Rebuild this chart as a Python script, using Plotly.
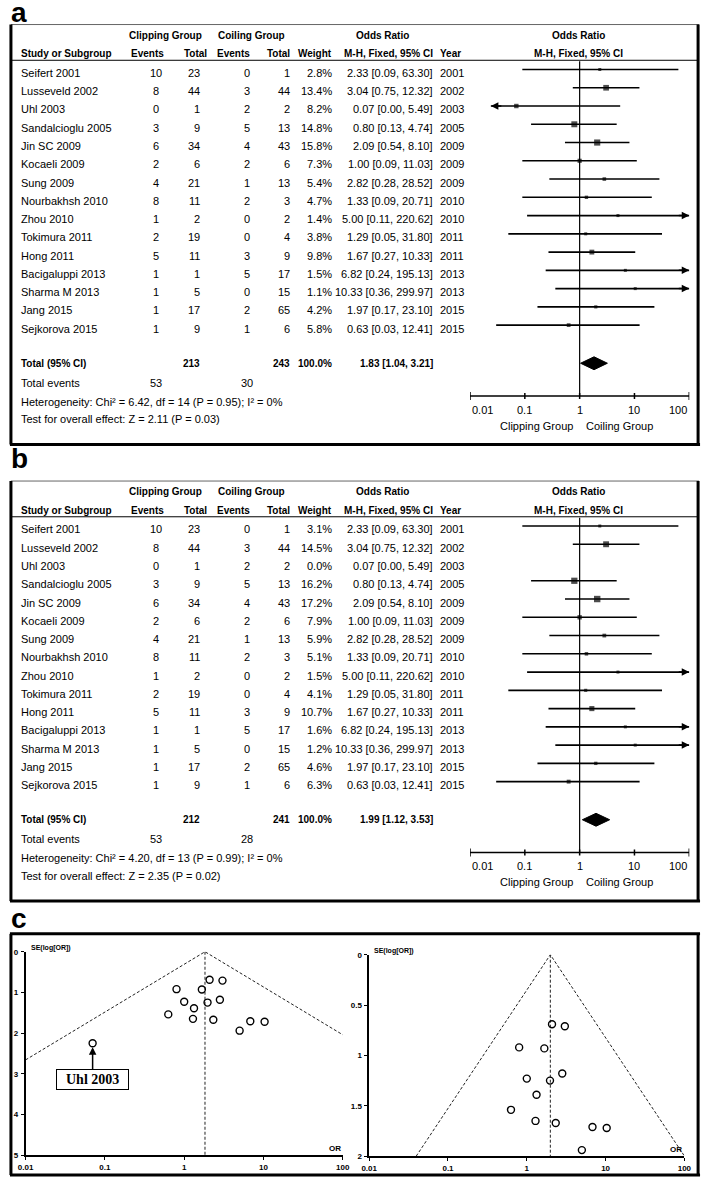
import numpy as np
import plotly.graph_objects as go

W, H = 709, 1183

# ---------------- data ----------------
studies = ["Seifert 2001", "Lusseveld 2002", "Uhl 2003", "Sandalcioglu 2005", "Jin SC 2009",
           "Kocaeli 2009", "Sung 2009", "Nourbakhsh 2010", "Zhou 2010", "Tokimura 2011",
           "Hong 2011", "Bacigaluppi 2013", "Sharma M 2013", "Jang 2015", "Sejkorova 2015"]
years = [2001, 2002, 2003, 2005, 2009, 2009, 2009, 2010, 2010, 2011, 2011, 2013, 2013, 2015, 2015]
clip_events = [10, 8, 0, 3, 6, 2, 4, 8, 1, 2, 5, 1, 1, 1, 1]
clip_total = [23, 44, 1, 9, 34, 6, 21, 11, 2, 19, 11, 1, 5, 17, 9]
coil_events = [0, 3, 2, 5, 4, 2, 1, 2, 0, 0, 3, 5, 0, 2, 1]
coil_total = [1, 44, 2, 13, 43, 6, 13, 3, 2, 4, 9, 17, 15, 65, 6]
weight_a = [2.8, 13.4, 8.2, 14.8, 15.8, 7.3, 5.4, 4.7, 1.4, 3.8, 9.8, 1.5, 1.1, 4.2, 5.8]
weight_b = [3.1, 14.5, 0.0, 16.2, 17.2, 7.9, 5.9, 5.1, 1.5, 4.1, 10.7, 1.6, 1.2, 4.6, 6.3]
odds = [2.33, 3.04, 0.07, 0.80, 2.09, 1.00, 2.82, 1.33, 5.00, 1.29, 1.67, 6.82, 10.33, 1.97, 0.63]
ci_low = [0.09, 0.75, 0.00, 0.13, 0.54, 0.09, 0.28, 0.09, 0.11, 0.05, 0.27, 0.24, 0.36, 0.17, 0.03]
ci_high = [63.30, 12.32, 5.49, 4.74, 8.10, 11.03, 28.52, 20.71, 220.62, 31.80, 10.33, 195.13, 299.97, 23.10, 12.41]
se_log_or = [1.67, 0.71, 2.25, 0.92, 0.69, 1.23, 1.18, 1.39, 1.94, 1.65, 0.93, 1.71, 1.72, 1.25, 1.54]
included_a = [True] * 15
included_b = [True, True, False] + [True] * 12

pooled_or = [1.83, 1.99]
pooled_lo = [1.04, 1.12]
pooled_hi = [3.21, 3.53]
sum_clip_total = [213, 212]
sum_coil_total = [243, 241]
sum_clip_events = [53, 53]
sum_coil_events = [30, 28]
het_text = ["Heterogeneity: Chi² = 6.42, df = 14 (P = 0.95); I² = 0%",
            "Heterogeneity: Chi² = 4.20, df = 13 (P = 0.99); I² = 0%"]
test_text = ["Test for overall effect: Z = 2.11 (P = 0.03)",
             "Test for overall effect: Z = 2.35 (P = 0.02)"]

or_ticks = [0.01, 0.1, 1, 10, 100]
or_tick_labels = ["0.01", "0.1", "1", "10", "100"]
se_ticks_a = [0, 1, 2, 3, 4, 5]
se_tick_labels_a = ["0", "1", "2", "3", "4", "5"]
se_ticks_b = [0, 0.5, 1, 1.5, 2]
se_tick_labels_b = ["0", "0.5", "1", "1.5", "2"]

# ---------------- layout constants (px) ----------------
FONT = "Liberation Sans, Arial, sans-serif"
FS, FSB = 11, 10
ROW0, ROWH = 69.5, 18.4          # text centre of first study row, row pitch
MARK_SHIFT = -3.5                # forest marks sit slightly above the text centre
HDR1, HDR2, HDR_LINE = 31.7, 50, 56.7
TOTAL_PX, EVT_PX, HET_PX, TEST_PX = 362, 381.7, 401, 418.5
AXIS_PX, TICKLAB_PX, GRPLAB_PX = 395, 409, 425
TOP_PX, BOT_PX = 20.7, 444
OFFSETS = [0, 460]
LETTER_Y = [9, 458]
XL, XR = 472, 696
LEFT_CLIP, RIGHT_CLIP = 0.024, 100

def px(x):
    return x / W

def py(y):
    return 1 - y / H

fig = go.Figure()
ann = []
shp = []

def txt(x, y, s, anchor="left", bold=False, size=None, family=FONT):
    if size is None:
        size = FSB if bold else FS
    ann.append(dict(x=px(x), y=py(y), xref="paper", yref="paper",
                    text=("<b>%s</b>" % s) if bold else s, showarrow=False,
                    xanchor=anchor, yanchor="middle",
                    font=dict(family=family, size=size, color="black")))

def hline(x0, x1, y, w=1, color="black"):
    shp.append(dict(type="line", xref="paper", yref="paper", x0=px(x0), x1=px(x1),
                    y0=py(y), y1=py(y), line=dict(color=color, width=w)))

def vline(x, y0, y1, w=1, color="black"):
    shp.append(dict(type="line", xref="paper", yref="paper", x0=px(x), x1=px(x),
                    y0=py(y0), y1=py(y1), line=dict(color=color, width=w)))

def row_of(pxv):
    # forest-plot row units for a pixel position (relative to panel top)
    return (pxv - (ROW0 + MARK_SHIFT)) / ROWH

letters = ["a", "b"]
for p, T in enumerate(OFFSETS):
    weights = weight_a if p == 0 else weight_b
    incl = included_a if p == 0 else included_b
    xa = "x" if p == 0 else "x2"
    ya = "y" if p == 0 else "y2"
    # panel letter + frame
    txt(1, LETTER_Y[p], letters[p], bold=True, size=28)
    hline(3, 706, TOP_PX + T, w=1, color="#666")
    vline(3, TOP_PX + T, BOT_PX + T, w=3)
    vline(705, TOP_PX + T, BOT_PX + T, w=3)
    hline(2, 707, BOT_PX + T, w=3)
    hline(3, 705, HDR_LINE + T, w=1)
    # headers
    txt(161, HDR1 + T, "Clipping Group", "center", True)
    txt(249, HDR1 + T, "Coiling Group", "center", True)
    txt(383, HDR1 + T, "Odds Ratio", "center", True)
    txt(583, HDR1 + T, "Odds Ratio", "center", True)
    txt(11, HDR2 + T, "Study or Subgroup", "left", True)
    txt(161, HDR2 + T, "Events", "right", True)
    txt(205, HDR2 + T, "Total", "right", True)
    txt(249, HDR2 + T, "Events", "right", True)
    txt(290, HDR2 + T, "Total", "right", True)
    txt(333, HDR2 + T, "Weight", "right", True)
    txt(389, HDR2 + T, "M-H, Fixed, 95% CI", "center", True)
    txt(439, HDR2 + T, "Year", "left", True)
    txt(583, HDR2 + T, "M-H, Fixed, 95% CI", "center", True)
    # study rows
    for i, s in enumerate(studies):
        y = ROW0 + i * ROWH + T
        txt(11, y, s)
        txt(151, y, str(clip_events[i]), "center")
        txt(198, y, str(clip_total[i]), "right")
        txt(244, y, str(coil_events[i]), "center")
        txt(290, y, str(coil_total[i]), "right")
        txt(333, y, "%.1f%%" % weights[i], "right")
        txt(436, y, "%.2f [%.2f, %.2f]" % (odds[i], ci_low[i], ci_high[i]), "right")
        txt(439, y, str(years[i]), "left")
    # totals
    txt(11, TOTAL_PX + T, "Total (95% CI)", "left", True)
    txt(198, TOTAL_PX + T, str(sum_clip_total[p]), "right", True)
    txt(290, TOTAL_PX + T, str(sum_coil_total[p]), "right", True)
    txt(333, TOTAL_PX + T, "100.0%", "right", True)
    txt(436, TOTAL_PX + T, "%.2f [%.2f, %.2f]" % (pooled_or[p], pooled_lo[p], pooled_hi[p]), "right", True)
    txt(11, EVT_PX + T, "Total events")
    txt(151, EVT_PX + T, str(sum_clip_events[p]), "center")
    txt(244, EVT_PX + T, str(sum_coil_events[p]), "center")
    txt(11, HET_PX + T, het_text[p])
    txt(11, TEST_PX + T, test_text[p])

    # ---- forest plot ----
    xs, ys, mx, my, ms = [], [], [], [], []
    for i in range(len(studies)):
        if not incl[i]:
            continue
        lo = max(ci_low[i], LEFT_CLIP)
        hi = min(ci_high[i], RIGHT_CLIP)
        xs += [lo, hi, None]
        ys += [i, i, None]
        mx.append(odds[i]); my.append(i)
        ms.append(max(3.0, 1.55 * np.sqrt(weights[i])))
        if ci_low[i] < LEFT_CLIP:
            ann.append(dict(x=np.log10(LEFT_CLIP), y=i, xref=xa, yref=ya, text="", showarrow=True,
                            ax=12, ay=0, arrowhead=2, arrowsize=1, arrowwidth=1.5, arrowcolor="black"))
        if ci_high[i] > RIGHT_CLIP:
            ann.append(dict(x=np.log10(RIGHT_CLIP), y=i, xref=xa, yref=ya, text="", showarrow=True,
                            ax=-12, ay=0, arrowhead=2, arrowsize=1, arrowwidth=1.5, arrowcolor="black"))
    total_row = row_of(TOTAL_PX)
    axis_row = row_of(AXIS_PX)
    hdr_row = row_of(HDR_LINE + 1)
    fig.add_trace(go.Scatter(x=[1, 1], y=[hdr_row, axis_row], mode="lines",
                             line=dict(color="black", width=1.2), xaxis=xa, yaxis=ya,
                             hoverinfo="skip", showlegend=False, cliponaxis=False))
    fig.add_trace(go.Scatter(x=xs, y=ys, mode="lines", line=dict(color="black", width=1.6),
                             xaxis=xa, yaxis=ya, hoverinfo="skip", showlegend=False, cliponaxis=False))
    fig.add_trace(go.Scatter(x=mx, y=my, mode="markers",
                             marker=dict(symbol="square", size=ms, color="black", line=dict(width=0)),
                             xaxis=xa, yaxis=ya, hoverinfo="skip", showlegend=False, cliponaxis=False))
    dh = 6.5 / ROWH
    fig.add_trace(go.Scatter(x=[pooled_lo[p], pooled_or[p], pooled_hi[p], pooled_or[p], pooled_lo[p]],
                             y=[total_row, total_row - dh, total_row, total_row + dh, total_row],
                             mode="lines", fill="toself", fillcolor="black",
                             line=dict(color="black", width=1), xaxis=xa, yaxis=ya,
                             hoverinfo="skip", showlegend=False, cliponaxis=False))
    ax_x, ax_y = [or_ticks[0], or_ticks[-1], None], [axis_row, axis_row, None]
    for k, v in enumerate(or_ticks):
        t = (4.0 if k in (0, len(or_ticks) - 1) else 3.0) / ROWH
        ax_x += [v, v, None]
        ax_y += [axis_row - t, axis_row + t, None]
    fig.add_trace(go.Scatter(x=ax_x, y=ax_y, mode="lines", line=dict(color="black", width=1.5),
                             xaxis=xa, yaxis=ya, hoverinfo="skip", showlegend=False, cliponaxis=False))
    for k, (v, lab) in enumerate(zip(or_ticks, or_tick_labels)):
        anchor = "left" if k == 0 else ("right" if k == len(or_ticks) - 1 else "center")
        ann.append(dict(x=np.log10(v), y=py(TICKLAB_PX + T), xref=xa, yref="paper", text=lab,
                        showarrow=False, xanchor=anchor, yanchor="middle",
                        font=dict(family=FONT, size=FS, color="black")))
    ann.append(dict(x=0, y=py(GRPLAB_PX + T), xref=xa, yref="paper", text="Clipping Group",
                    showarrow=False, xanchor="right", xshift=-5, yanchor="middle",
                    font=dict(family=FONT, size=FS, color="black")))
    ann.append(dict(x=0, y=py(GRPLAB_PX + T), xref=xa, yref="paper", text="Coiling Group",
                    showarrow=False, xanchor="left", xshift=4, yanchor="middle",
                    font=dict(family=FONT, size=FS, color="black")))
    bot = AXIS_PX + 8
    fig.layout["xaxis" if p == 0 else "xaxis2"] = dict(
        type="log", range=[-2, 2], domain=[px(XL), px(XR)], anchor=ya, visible=False, fixedrange=True)
    fig.layout["yaxis" if p == 0 else "yaxis2"] = dict(
        range=[row_of(bot), row_of(HDR_LINE)], domain=[py(bot + T), py(HDR_LINE + T)],
        anchor=xa, visible=False, fixedrange=True)

# ---------------- panel c: funnel plots ----------------
txt(1, 922, "c", bold=True, size=28)
C_TOP, C_BOT = 937, 1180
hline(2, 707, C_TOP, w=3)
vline(3, C_TOP, C_BOT, w=3)
vline(705, C_TOP, C_BOT, w=3)
hline(2, 707, C_BOT, w=3)

funnels = [
    dict(xa="x3", ya="y3", xd=(18, 342), yd=(955, 1160), pooled=pooled_or[0], semax=5,
         incl=included_a, ticks=se_ticks_a, labs=se_tick_labels_a),
    dict(xa="x4", ya="y4", xd=(369, 691), yd=(958, 1161), pooled=pooled_or[1], semax=2,
         incl=included_b, ticks=se_ticks_b, labs=se_tick_labels_b),
]
TICKFONT = dict(family=FONT, size=8, color="black")
for k, f in enumerate(funnels):
    xa, ya = f["xa"], f["ya"]
    idx = [i for i in range(len(studies)) if f["incl"][i]]
    lnp = np.log(f["pooled"])
    se_l = min(f["semax"], (lnp - np.log(or_ticks[0])) / 1.96)
    se_r = min(f["semax"], (np.log(or_ticks[-1]) - lnp) / 1.96)
    fig.add_trace(go.Scatter(x=[np.exp(lnp - 1.96 * se_l), f["pooled"], np.exp(lnp + 1.96 * se_r)],
                             y=[se_l, 0, se_r], mode="lines",
                             line=dict(color="#222", width=1, dash="3px,2px"),
                             xaxis=xa, yaxis=ya, hoverinfo="skip", showlegend=False, cliponaxis=False))
    fig.add_trace(go.Scatter(x=[f["pooled"], f["pooled"]], y=[0, f["semax"]], mode="lines",
                             line=dict(color="#222", width=1, dash="3px,2px"),
                             xaxis=xa, yaxis=ya, hoverinfo="skip", showlegend=False, cliponaxis=False))
    fig.add_trace(go.Scatter(x=[odds[i] for i in idx], y=[se_log_or[i] for i in idx], mode="markers",
                             marker=dict(symbol="circle-open", size=7, color="black", line=dict(width=1.4)),
                             xaxis=xa, yaxis=ya, hoverinfo="skip", showlegend=False, cliponaxis=False))
    n = str(3 + k)
    fig.layout["xaxis" + n] = dict(
        type="log", range=[-2, 2], domain=[px(f["xd"][0]), px(f["xd"][1])], anchor=ya,
        showline=True, linecolor="black", linewidth=1.5, ticks="outside", ticklen=3, tickwidth=1.2,
        tickcolor="black", tickvals=or_ticks, ticktext=["<b>%s</b>" % t for t in or_tick_labels],
        tickfont=TICKFONT, showgrid=False, zeroline=False, fixedrange=True, ticklabelstandoff=0)
    fig.layout["yaxis" + n] = dict(
        range=[f["semax"], 0], domain=[py(f["yd"][1]), py(f["yd"][0])], anchor=xa,
        showline=True, linecolor="black", linewidth=1.5, ticks="outside", ticklen=3, tickwidth=1.2,
        tickcolor="black", tickvals=f["ticks"], ticktext=["<b>%s</b>" % t for t in f["labs"]],
        tickfont=TICKFONT, showgrid=False, zeroline=False, fixedrange=True, ticklabelstandoff=1)
    ann.append(dict(x=0.01, y=1, xref=xa + " domain", yref=ya + " domain", text="<b>SE(log[OR])</b>",
                    showarrow=False, xanchor="left", yanchor="middle", yshift=4,
                    font=dict(family=FONT, size=7, color="black")))
    ann.append(dict(x=1, y=0, xref=xa + " domain", yref=ya + " domain", text="<b>OR</b>",
                    showarrow=False, xanchor="right", yanchor="bottom",
                    font=dict(family=FONT, size=8, color="black")))

ui = studies.index("Uhl 2003")
ann.append(dict(x=np.log10(odds[ui]), y=se_log_or[ui], xref="x3", yref="y3",
                text="&nbsp;&nbsp;<b>Uhl 2003</b>&nbsp;&nbsp;", showarrow=True, ax=0, ay=36,
                arrowhead=2, arrowsize=1, arrowwidth=1.5, arrowcolor="black", standoff=4,
                bordercolor="black", borderwidth=1, borderpad=2, bgcolor="white",
                font=dict(family="Liberation Serif, Times New Roman, serif", size=14, color="black")))

fig.update_layout(width=W, height=H, margin=dict(l=0, r=0, t=0, b=0),
                  paper_bgcolor="white", plot_bgcolor="white", showlegend=False,
                  annotations=ann, shapes=shp)
fig.write_html("out.html", config={"displayModeBar": False},
               post_script="document.body.style.margin='0';document.body.style.padding='0';")
